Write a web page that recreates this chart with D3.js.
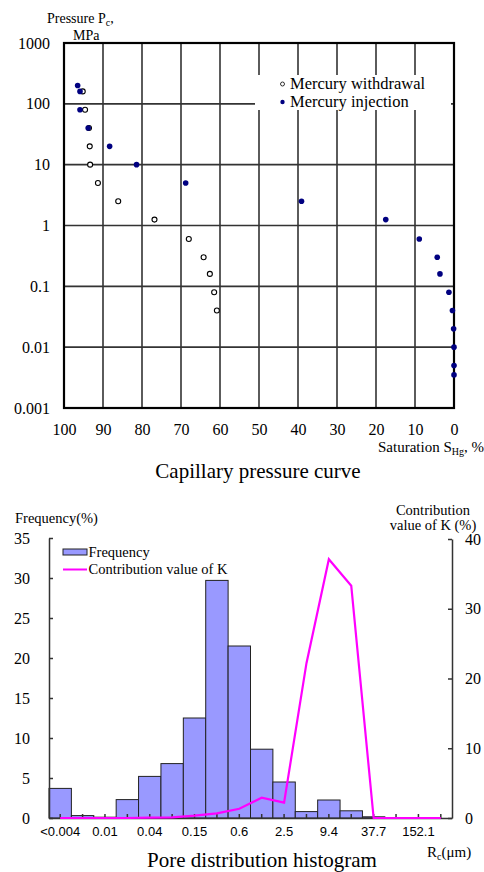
<!DOCTYPE html>
<html>
<head>
<meta charset="utf-8">
<script src="https://cdn.jsdelivr.net/npm/d3@7"></script>
<style>
  html, body { margin: 0; padding: 0; background: #fff; }
  svg { display: block; font-family: "Liberation Serif", "Times New Roman", serif; }
</style>
</head>
<body>
<svg id="chart" width="484" height="872"></svg>
<script>
// ---------------- Data: capillary pressure curve ----------------
const injectionSaturation = [96.5, 95.9, 95.9, 93.8, 88.3, 81.4, 68.8, 39.1, 17.5, 8.9, 4.3, 3.6, 1.3, 0.4, 0.1, 0, 0, 0];
const injectionPressure   = [200, 160, 80, 40, 20, 10, 5, 2.5, 1.25, 0.6, 0.3, 0.16, 0.08, 0.04, 0.02, 0.01, 0.005, 0.0035];
const withdrawalSaturation = [95.2, 94.6, 93.6, 93.4, 93.3, 91.3, 86.1, 76.8, 68.0, 64.2, 62.6, 61.5, 60.8];
const withdrawalPressure   = [160, 80, 40, 20, 10, 5, 2.5, 1.25, 0.6, 0.3, 0.16, 0.08, 0.04];
const pressureTicks = [1000, 100, 10, 1, 0.1, 0.01, 0.001];
const pressureTickLabels = ["1000", "100", "10", "1", "0.1", "0.01", "0.001"];
const saturationTicks = [100, 90, 80, 70, 60, 50, 40, 30, 20, 10, 0];

// ---------------- Data: pore distribution histogram ----------------
const poreLabels = ["<0.004", "", "0.01", "", "0.04", "", "0.15", "", "0.6", "", "2.5", "", "9.4", "", "37.7", "", "152.1", ""];
const frequency = [3.7, 0.3, 0.1, 2.3, 5.2, 6.8, 12.5, 29.7, 21.5, 8.6, 4.5, 0.8, 2.25, 0.9, 0.15, 0, 0, 0];
const contributionK = [0, 0, 0, 0, 0.05, 0.1, 0.33, 0.67, 1.33, 2.9, 2.2, 22.2, 37.1, 33.3, 0, 0, 0, 0];
const freqTicks = [0, 5, 10, 15, 20, 25, 30, 35];
const contribTicks = [0, 10, 20, 30, 40];

const svg = d3.select("#chart");
const navy = "#000080";
const SERIF = "'Liberation Serif', 'Times New Roman', serif";
const SANS = "'Liberation Sans', Arial, sans-serif";

// ================= TOP CHART =================
const gTop = svg.append("g");
const xS = d3.scaleLinear().domain([100, 0]).range([64, 454]);
const yP = d3.scaleLog().domain([0.001, 1000]).range([408, 43]);

// gridlines
gTop.append("g").selectAll("line").data(saturationTicks.filter(d => d !== 100 && d !== 0)).join("line")
  .attr("x1", d => xS(d)).attr("x2", d => xS(d)).attr("y1", yP(1000)).attr("y2", yP(0.001))
  .attr("stroke", "#333").attr("stroke-width", 1.6);
gTop.append("g").selectAll("line").data(pressureTicks.filter(d => d !== 1000 && d !== 0.001)).join("line")
  .attr("x1", xS(100)).attr("x2", xS(0)).attr("y1", d => yP(d)).attr("y2", d => yP(d))
  .attr("stroke", "#333").attr("stroke-width", 1.6);

// legend box (white, hides gridlines)
const lg = gTop.append("g");
lg.append("rect").attr("x", 255).attr("y", 75).attr("width", 196).attr("height", 35).attr("fill", "#fff");
lg.append("circle").attr("cx", 282.5).attr("cy", 84).attr("r", 2).attr("fill", "#fff").attr("stroke", "#000").attr("stroke-width", 0.8);
lg.append("circle").attr("cx", 282.5).attr("cy", 102).attr("r", 2.2).attr("fill", navy);
lg.append("text").attr("x", 290).attr("y", 89).style("font-family", SERIF).attr("font-size", 16.5).text("Mercury withdrawal");
lg.append("text").attr("x", 290).attr("y", 107).style("font-family", SERIF).attr("font-size", 16.5).text("Mercury injection");

// frame
gTop.append("rect").attr("x", xS(100)).attr("y", yP(1000)).attr("width", xS(0) - xS(100)).attr("height", yP(0.001) - yP(1000))
  .attr("fill", "none").attr("stroke", "#000").attr("stroke-width", 2.2);

// axes labels
const yAxTop = d3.axisLeft(yP).tickValues(pressureTicks).tickFormat((d, i) => pressureTickLabels[i]).tickSize(0).tickPadding(14);
const gyT = gTop.append("g").attr("transform", `translate(${xS(100)},0)`).call(yAxTop);
gyT.select(".domain").remove();
gyT.selectAll("text").style("font-family", SERIF).attr("font-size", 16).attr("fill", "#000");

const xAxTop = d3.axisBottom(xS).tickValues(saturationTicks).tickSize(0).tickPadding(0);
const gxT = gTop.append("g").attr("transform", `translate(0,${yP(0.001)})`).call(xAxTop);
gxT.select(".domain").remove();
gxT.selectAll("text").style("font-family", SERIF).attr("font-size", 16).attr("fill", "#000").attr("dy", null).attr("y", 27);

// points
gTop.append("g").selectAll("circle").data(withdrawalSaturation.map((s, i) => [s, withdrawalPressure[i]])).join("circle")
  .attr("cx", d => xS(d[0])).attr("cy", d => yP(d[1])).attr("r", 2.5)
  .attr("fill", "#fff").attr("stroke", "#000").attr("stroke-width", 1.1);
gTop.append("g").selectAll("circle").data(injectionSaturation.map((s, i) => [s, injectionPressure[i]])).join("circle")
  .attr("cx", d => xS(d[0])).attr("cy", d => yP(d[1])).attr("r", 2.8).attr("fill", navy);

// titles
const pt = gTop.append("text").attr("x", 47).attr("y", 23).style("font-family", SERIF).attr("font-size", 14);
pt.append("tspan").text("Pressure P");
pt.append("tspan").attr("font-size", 10).attr("dy", 3).text("c");
pt.append("tspan").attr("dy", -3).text(",");
gTop.append("text").attr("x", 73).attr("y", 40).style("font-family", SERIF).attr("font-size", 14).text("MPa");

const st = gTop.append("text").attr("x", 484).attr("y", 452).attr("text-anchor", "end").style("font-family", SERIF).attr("font-size", 15);
st.append("tspan").text("Saturation  S");
st.append("tspan").attr("font-size", 10).attr("dy", 3).text("Hg");
st.append("tspan").attr("dy", -3).text(",  %");

gTop.append("text").attr("x", 258).attr("y", 478).attr("text-anchor", "middle").style("font-family", SERIF).attr("font-size", 21).text("Capillary pressure curve");

// ================= BOTTOM CHART =================
const gBot = svg.append("g");
const xB = d3.scaleBand().domain(d3.range(poreLabels.length)).range([49, 452]).paddingInner(0).paddingOuter(0);
const yL = d3.scaleLinear().domain([0, 35]).range([818, 538]);
const yR = d3.scaleLinear().domain([0, 40]).range([818, 539]);

// bars
gBot.append("g").selectAll("rect").data(frequency).join("rect")
  .attr("x", (d, i) => xB(i)).attr("y", d => yL(d)).attr("width", xB.bandwidth()).attr("height", d => yL(0) - yL(d))
  .attr("fill", d => d > 0 ? "#9999ff" : "none").attr("stroke", d => d > 0 ? "#222" : "none").attr("stroke-width", 1);

// left axis
const yAxL = d3.axisLeft(yL).tickValues(freqTicks).tickSizeInner(-4).tickSizeOuter(0).tickPadding(19);
const gyL = gBot.append("g").attr("transform", `translate(${xB.range()[0]},0)`).call(yAxL);
gyL.selectAll("text").style("font-family", SERIF).attr("font-size", 16).attr("fill", "#000");
gyL.selectAll("line, path").attr("stroke", "#333").attr("stroke-width", 1.5);

// right axis
const yAxR = d3.axisRight(yR).tickValues(contribTicks).tickSizeInner(-4).tickSizeOuter(0).tickPadding(13);
const gyR = gBot.append("g").attr("transform", `translate(${xB.range()[1]},0)`).call(yAxR);
gyR.selectAll("text").style("font-family", SERIF).attr("font-size", 16).attr("fill", "#000");
gyR.selectAll("line, path").attr("stroke", "#333").attr("stroke-width", 1.5);

// bottom axis
const xAxB = d3.axisBottom(xB).tickFormat(i => poreLabels[i]).tickSizeInner(-4).tickSizeOuter(0).tickPadding(0);
const gxB = gBot.append("g").attr("transform", `translate(0,${yL(0)})`).call(xAxB);
gxB.selectAll("text").style("font-family", SANS).attr("font-size", 13).attr("fill", "#000")
  .attr("dy", null).attr("y", 18);
gxB.selectAll("line, path").attr("stroke", "#333").attr("stroke-width", 1.5);

// contribution line
const line = d3.line().x((d, i) => xB(i) + xB.bandwidth() / 2).y(d => yR(d));
gBot.append("path").datum(contributionK).attr("d", line).attr("fill", "none").attr("stroke", "#ff00ff").attr("stroke-width", 2.2);

// legend
const lb = gBot.append("g");
lb.append("rect").attr("x", 63).attr("y", 549).attr("width", 24).attr("height", 6).attr("fill", "#9999ff").attr("stroke", "#222").attr("stroke-width", 1);
lb.append("line").attr("x1", 63).attr("x2", 87).attr("y1", 569.5).attr("y2", 569.5).attr("stroke", "#ff00ff").attr("stroke-width", 2);
lb.append("text").attr("x", 88.5).attr("y", 557).style("font-family", SERIF).attr("font-size", 14.5).text("Frequency");
lb.append("text").attr("x", 88.5).attr("y", 574).style("font-family", SERIF).attr("font-size", 14.5).text("Contribution value of K");

// axis titles
gBot.append("text").attr("x", 15).attr("y", 523).style("font-family", SERIF).attr("font-size", 14.5).text("Frequency(%)");
gBot.append("text").attr("x", 433).attr("y", 515).attr("text-anchor", "middle").style("font-family", SERIF).attr("font-size", 14.5).text("Contribution");
gBot.append("text").attr("x", 433).attr("y", 530).attr("text-anchor", "middle").style("font-family", SERIF).attr("font-size", 14.5).text("value of K (%)");

const rc = gBot.append("text").attr("x", 427).attr("y", 857).style("font-family", SERIF).attr("font-size", 15);
rc.append("tspan").text("R");
rc.append("tspan").attr("font-size", 10).attr("dy", 3).text("c");
rc.append("tspan").attr("dy", -3).text("(μm)");

gBot.append("text").attr("x", 262).attr("y", 867).attr("text-anchor", "middle").style("font-family", SERIF).attr("font-size", 21).text("Pore distribution histogram");
</script>
</body>
</html>
